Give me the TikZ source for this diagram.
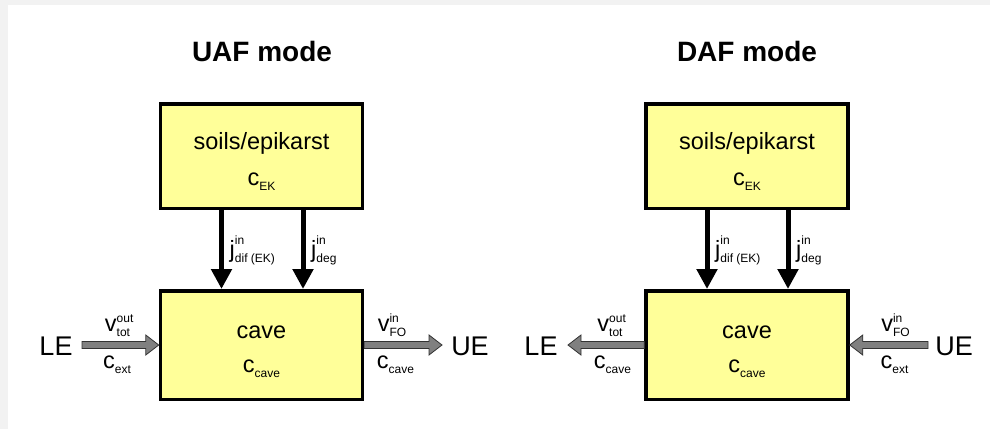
\documentclass[tikz,border=0pt]{standalone}
\usepackage{fontspec}
\setmainfont{Liberation Sans}
\usetikzlibrary{arrows.meta,calc}

\definecolor{boxyellow}{HTML}{FFFF99}
\definecolor{framegray}{HTML}{F2F2F2}
\definecolor{arrowgray}{HTML}{808080}

\newcommand{\bigf}{\fontsize{23.5}{28}\selectfont}
\newcommand{\subf}{\fontsize{12}{13}\selectfont}
% symbol with subscript and superscript
\newcommand{\symb}[4][9pt]{#2\rlap{\raisebox{#1}{\subf #4}}\raisebox{-5pt}{\subf #3}}
% fat grey horizontal arrow
\newcommand{\fatarrow}[2]{%
  \draw[fatarr] let \p1=(#1), \p2=(#2), \n1={ifthenelse(\x2>\x1,1,-1)} in
    (\x1,{\y1+3.5pt}) -- ({\x2-\n1*13pt},{\y1+3.5pt}) -- ({\x2-\n1*13pt},{\y1+10pt})
    -- (\x2,\y1) -- ({\x2-\n1*13pt},{\y1-10pt}) -- ({\x2-\n1*13pt},{\y1-3.5pt})
    -- (\x1,{\y1-3.5pt}) -- cycle;}

\tikzset{
  box/.style={draw, line width=3.5pt, fill=boxyellow, minimum width=202pt},
  lbl/.style={font=\bigf, inner sep=0pt, anchor=base},
  endlbl/.style={font=\fontsize{27}{30}\selectfont, inner sep=0pt, anchor=base},
  title/.style={font=\bfseries\fontsize{28}{30}\selectfont, inner sep=0pt, anchor=base},
  jarrow/.style={line width=5pt, -{Triangle[width=20pt,length=20pt]}},
  fatarr/.style={fill=arrowgray, draw=black!80, line width=0.8pt},
}

\begin{document}
\begin{tikzpicture}[x=1pt,y=-1pt]
  % frame
  \fill[framegray] (0,0) rectangle (990,429);
  \fill[white] (8,5) rectangle (990,429);
  \useasboundingbox (0,0) rectangle (990,429);

  % UAF mode
  \node[title] (uaf) at (262,61) {UAF mode};
  \node[box, minimum height=104.5pt] (ekL) at (261.5,156) {};
  \node[lbl] (ekLname) at (261.5,149) {soils/epikarst};
  \node[lbl] (ekLc) at (261.5,185) {\symb{c}{EK}{}};
  \node[box, minimum height=108.5pt] (caveL) at (261.5,345) {};
  \node[lbl] (caveLname) at (261.5,338) {cave};
  \node[lbl] (caveLc) at (261.5,372) {\symb{c}{cave}{}};

  \draw[jarrow] ($(ekL.south)+(-40,0)$) coordinate (difL) -- ($(caveL.north)+(-40,0)$);
  \draw[jarrow] ($(ekL.south)+(41.5,0)$) coordinate (degL) -- ($(caveL.north)+(41.5,0)$);
  \node[lbl, anchor=base west] (jdifL) at ($(difL)+(8,47)$) {\symb[13pt]{j}{dif (EK)}{in}};
  \node[lbl, anchor=base west] (jdegL) at ($(degL)+(8,47)$) {\symb[13pt]{j}{deg}{in}};

  \node[endlbl] (leL) at (56,355) {LE};
  \node[endlbl] (ueL) at (470,355) {UE};
  \coordinate (leLout) at (82,345);
  \coordinate (ueLin) at (442,345);
  \fatarrow{leLout}{caveL.west}
  \fatarrow{caveL.east}{ueLin}
  \node[lbl] (vL) at (117.5,331) {\symb{v}{tot}{out}};
  \node[lbl] (cextL) at (117,368) {\symb{c}{ext}{}};
  \node[lbl] (vfoL) at (392,331) {\symb{v}{FO}{in}};
  \node[lbl] (ccaveL) at (395.5,368) {\symb{c}{cave}{}};

  % DAF mode
  \node[title] (daf) at (747,61) {DAF mode};
  \node[box, minimum height=104.5pt] (ekR) at (747,156) {};
  \node[lbl] (ekRname) at (747,149) {soils/epikarst};
  \node[lbl] (ekRc) at (747,185) {\symb{c}{EK}{}};
  \node[box, minimum height=108.5pt] (caveR) at (747,345) {};
  \node[lbl] (caveRname) at (747,338) {cave};
  \node[lbl] (caveRc) at (747,372) {\symb{c}{cave}{}};

  \draw[jarrow] ($(ekR.south)+(-40,0)$) coordinate (difR) -- ($(caveR.north)+(-40,0)$);
  \draw[jarrow] ($(ekR.south)+(41,0)$) coordinate (degR) -- ($(caveR.north)+(41,0)$);
  \node[lbl, anchor=base west] (jdifR) at ($(difR)+(8,47)$) {\symb[13pt]{j}{dif (EK)}{in}};
  \node[lbl, anchor=base west] (jdegR) at ($(degR)+(8,47)$) {\symb[13pt]{j}{deg}{in}};

  \node[endlbl] (leR) at (541,355) {LE};
  \node[endlbl] (ueR) at (954,355) {UE};
  \coordinate (leRin) at (568,345);
  \coordinate (ueRout) at (928,345);
  \fatarrow{caveR.west}{leRin}
  \fatarrow{ueRout}{caveR.east}
  \node[lbl] (vR) at (610,331) {\symb{v}{tot}{out}};
  \node[lbl] (ccaveR) at (612.5,368) {\symb{c}{cave}{}};
  \node[lbl] (vfoR) at (895.5,331) {\symb{v}{FO}{in}};
  \node[lbl] (cextR) at (894.5,368) {\symb{c}{ext}{}};
\end{tikzpicture}
\end{document}
